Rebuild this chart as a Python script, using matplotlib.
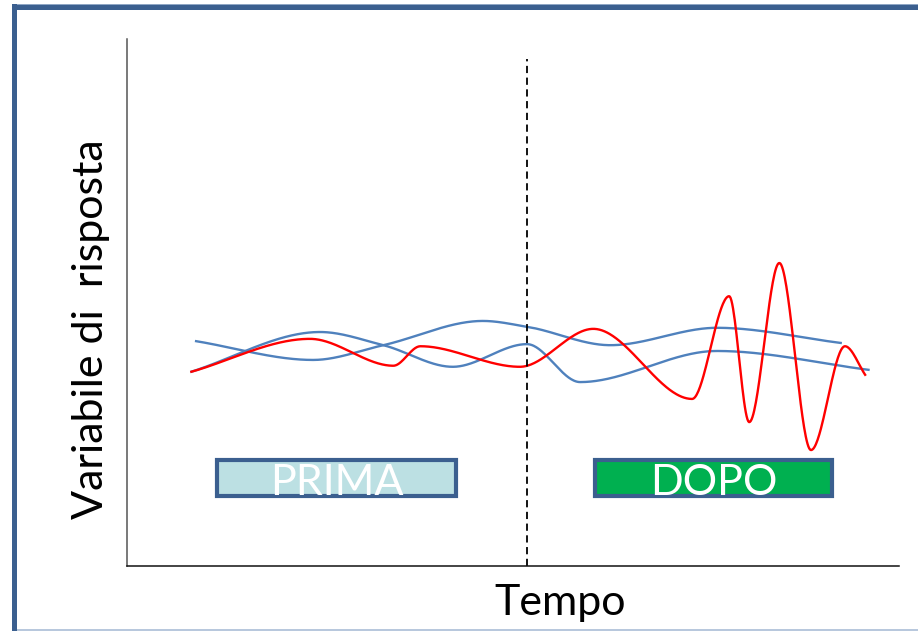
import numpy as np
import matplotlib
matplotlib.use("Agg")
import matplotlib.pyplot as plt
from matplotlib.patches import Rectangle

# ---- data (time 0..100, response 0..100) ----
blue_a_x = [8.2, 25.0, 33.2, 42.2, 51.8, 58.7, 76.4, 96.2]
blue_a_y = [36.8, 44.4, 41.9, 37.8, 42.1, 34.9, 40.8, 37.2]

blue_b_x = [8.8, 24.1, 33.2, 46.1, 51.8, 62.6, 76.4, 92.6]
blue_b_y = [42.7, 39.1, 41.9, 46.5, 45.4, 41.9, 45.2, 42.3]

red_x = [8.2, 23.7, 34.5, 38.0, 50.9, 60.4, 73.2, 78.0, 80.6, 84.5, 88.6, 93.0, 95.7]
red_y = [36.8, 43.1, 38.0, 41.7, 37.8, 45.0, 31.7, 51.2, 27.3, 57.5, 22.0, 41.7, 36.1]

intervention_x = 51.8
intervention_top = 96.2

box_labels = ["PRIMA", "DOPO"]
box_x0 = [11.7, 60.6]
box_x1 = [42.6, 91.3]
box_y0 = [13.3, 13.3]
box_y1 = [20.1, 20.1]
box_fill = ["#BCE0E3", "#00B050"]

x_label = "Tempo"
y_label = "Variabile di  risposta"


def pchip(x, y, xs):
    x = np.asarray(x, float); y = np.asarray(y, float)
    h = np.diff(x); d = np.diff(y) / h
    n = len(x); m = np.zeros(n)
    for k in range(1, n - 1):
        if d[k - 1] * d[k] > 0:
            w1 = 2 * h[k] + h[k - 1]; w2 = h[k] + 2 * h[k - 1]
            m[k] = (w1 + w2) / (w1 / d[k - 1] + w2 / d[k])
    m[0] = d[0]; m[-1] = d[-1]
    idx = np.clip(np.searchsorted(x, xs) - 1, 0, n - 2)
    t = (xs - x[idx]) / h[idx]
    h00 = 2 * t**3 - 3 * t**2 + 1; h10 = t**3 - 2 * t**2 + t
    h01 = -2 * t**3 + 3 * t**2; h11 = t**3 - t**2
    return h00 * y[idx] + h10 * h[idx] * m[idx] + h01 * y[idx + 1] + h11 * h[idx] * m[idx + 1]


W, H = 918, 631
fig = plt.figure(figsize=(W / 100, H / 100), dpi=100)
fig.patch.set_facecolor("white")

# frame
frame_c = "#3B5F8F"
fig.add_artist(Rectangle((12 / W, 1 - 10 / H), 1, 6 / H, transform=fig.transFigure,
                         facecolor=frame_c, edgecolor="none"))
fig.add_artist(Rectangle((12 / W, 1 - 5 / H), 1, 1.2 / H, transform=fig.transFigure,
                         facecolor="#8FA6C4", edgecolor="none"))
fig.add_artist(Rectangle((12 / W, 0), 5 / W, 1 - 4 / H, transform=fig.transFigure,
                         facecolor=frame_c, edgecolor="none"))
fig.add_artist(Rectangle((17 / W, 0), 1, 2 / H, transform=fig.transFigure,
                         facecolor="#B8C8DD", edgecolor="none"))

ax = fig.add_axes([127 / W, (H - 566) / H, (899 - 127) / W, (566 - 39) / H])
ax.set_xlim(0, 100)
ax.set_ylim(0, 100)
for s in ["top", "right"]:
    ax.spines[s].set_visible(False)
ax.spines["left"].set_color("#555555")
ax.spines["bottom"].set_color("#111111")
ax.spines["left"].set_linewidth(1.1)
ax.spines["bottom"].set_linewidth(1.1)
ax.set_xticks([]); ax.set_yticks([])

for xs_, ys_, c, lw in [(blue_a_x, blue_a_y, "#4F81BD", 1.7),
                        (blue_b_x, blue_b_y, "#4F81BD", 1.7),
                        (red_x, red_y, "#FF0000", 1.7)]:
    xx = np.linspace(xs_[0], xs_[-1], 800)
    ax.plot(xx, pchip(xs_, ys_, xx), color=c, lw=lw, solid_capstyle="butt")

ax.plot([intervention_x, intervention_x], [0, intervention_top], color="black",
        lw=1.3, linestyle=(0, (4, 2.5)))

for lab, x0, x1, y0, y1, fc in zip(box_labels, box_x0, box_x1, box_y0, box_y1, box_fill):
    ax.add_patch(Rectangle((x0, y0), x1 - x0, y1 - y0, facecolor=fc,
                           edgecolor="#3B5F8F", lw=3, zorder=3))
    ax.text((x0 + x1) / 2, (y0 + y1) / 2 - 1.0, lab, ha="center", va="center",
            color="white", fontsize=31, family="Lato", zorder=4)

fig.text(560 / W, 1 - 603 / H, x_label, ha="center", va="center",
         fontsize=31, family="Lato")
fig.text(91 / W, 1 - 329 / H, y_label, ha="center", va="center", rotation=90,
         fontsize=31, family="Lato")

fig.savefig("out.png", dpi=100)
